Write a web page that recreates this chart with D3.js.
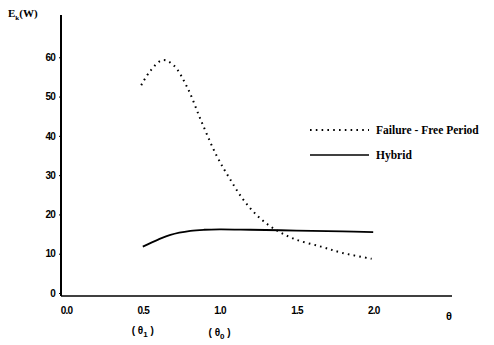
<!DOCTYPE html>
<html>
<head>
<meta charset="utf-8">
<script src="https://cdn.jsdelivr.net/npm/d3@7"></script>
<style>
  html, body { margin: 0; padding: 0; background: #fff; }
</style>
</head>
<body>
<script>
// values
const ffTheta = [0.49, 0.55, 0.63, 0.70, 0.79, 0.88, 0.98, 1.06, 1.15, 1.25, 1.36, 1.49, 1.66, 1.80, 1.99];
const ffE     = [52.9, 56.6, 59.3, 58.0, 52.3, 43.8, 35.0, 29.5, 24.0, 19.5, 16.2, 13.7, 11.8, 10.2, 8.7];
const hyTheta = [0.50, 0.60, 0.68, 0.81, 0.90, 1.00, 1.20, 1.50, 1.80, 2.00];
const hyE     = [11.8, 13.6, 14.8, 15.8, 16.1, 16.2, 16.1, 15.9, 15.7, 15.5];
const xTicks = [0, 0.5, 1.0, 1.5, 2.0];
const yTicks = [0, 10, 20, 30, 40, 50, 60];
const legendLabels = ['Failure - Free Period', 'Hybrid'];

const width = 494, height = 345;

const svg = d3.select('body').append('svg')
  .attr('width', width)
  .attr('height', height);

const x = d3.scaleLinear().domain([0, 2.5]).range([66, 450]);
const y = d3.scaleLinear().domain([0, 70]).range([293, 18]);

const tickFont = '"Liberation Sans", Arial, sans-serif';

// axis lines
svg.append('line')
  .attr('x1', x(0) - 5).attr('x2', x(0) - 5)
  .attr('y1', y(70) - 3).attr('y2', y(0) + 3)
  .attr('stroke', '#000').attr('stroke-width', 2);
svg.append('line')
  .attr('x1', x(0) - 5).attr('x2', x(2.5) + 2)
  .attr('y1', y(0) + 3).attr('y2', y(0) + 3)
  .attr('stroke', '#000').attr('stroke-width', 1.6);

// y axis labels
const yAxis = svg.append('g')
  .attr('transform', `translate(${x(0) - 5},0)`)
  .call(d3.axisLeft(y).tickValues(yTicks).tickSize(2).tickPadding(4).tickFormat(d3.format('d')));
yAxis.select('.domain').remove();
yAxis.selectAll('text')
  .attr('font-family', tickFont).attr('font-weight', 'bold')
  .attr('font-size', 10).attr('letter-spacing', -0.8).attr('fill', '#000');

// x axis labels
const xAxis = svg.append('g')
  .attr('transform', `translate(0,${y(0) + 3})`)
  .call(d3.axisBottom(x).tickValues(xTicks).tickSize(0).tickPadding(11).tickFormat(d3.format('.1f')));
xAxis.select('.domain').remove();
xAxis.selectAll('text')
  .attr('font-family', tickFont).attr('font-weight', 'bold')
  .attr('font-size', 10).attr('letter-spacing', -0.8).attr('fill', '#000');

// theta at the end of x axis
svg.append('text')
  .attr('x', x(2.5) - 1).attr('y', y(0) + 27)
  .attr('text-anchor', 'middle')
  .attr('font-family', tickFont).attr('font-weight', 'bold').attr('font-size', 11)
  .text('θ');

// (θ1) and (θ0) under the axis
const subLabels = [{ v: 0.5, sub: '1' }, { v: 1.0, sub: '0' }];
subLabels.forEach((s, i) => {
  const t = svg.append('text')
    .attr('x', x(s.v)).attr('y', y(0) + 41 + i * 2)
    .attr('text-anchor', 'middle')
    .attr('font-family', tickFont).attr('font-weight', 'bold').attr('font-size', 10)
    .attr('fill', '#000');
  t.append('tspan').text('( θ');
  t.append('tspan').attr('font-size', 8).attr('dy', 3).text(s.sub);
  t.append('tspan').attr('dy', -3).text(' )');
});

// y axis title
const yt = svg.append('text')
  .attr('x', 8).attr('y', 17)
  .attr('font-family', '"Liberation Serif", serif').attr('font-weight', 'bold')
  .attr('font-size', 11).attr('fill', '#000');
yt.append('tspan').text('E');
yt.append('tspan').attr('font-size', 7).attr('dy', 3).text('k');
yt.append('tspan').attr('dy', -3).text('(W)');

// curves
const line = d3.line()
  .x(d => x(d[0]))
  .y(d => y(d[1]))
  .curve(d3.curveCatmullRom.alpha(0.5));

svg.append('path')
  .datum(d3.zip(ffTheta, ffE))
  .attr('fill', 'none')
  .attr('stroke', '#000')
  .attr('stroke-width', 2)
  .attr('stroke-dasharray', '1.6,4.2')
  .attr('d', line);

svg.append('path')
  .datum(d3.zip(hyTheta, hyE))
  .attr('fill', 'none')
  .attr('stroke', '#000')
  .attr('stroke-width', 1.8)
  .attr('d', line);

// legend
const legend = svg.append('g');
legendLabels.forEach((lbl, i) => {
  const ly = 130 + i * 25;
  legend.append('line')
    .attr('x1', 310).attr('x2', 369)
    .attr('y1', ly).attr('y2', ly)
    .attr('stroke', '#000')
    .attr('stroke-width', i === 0 ? 2 : 1.6)
    .attr('stroke-dasharray', i === 0 ? '1.6,4.2' : null);
  legend.append('text')
    .attr('x', 376).attr('y', ly + 4)
    .attr('font-family', '"Liberation Serif", serif').attr('font-weight', 'bold')
    .attr('font-size', 11.5).attr('fill', '#000')
    .text(lbl);
});
</script>
</body>
</html>
